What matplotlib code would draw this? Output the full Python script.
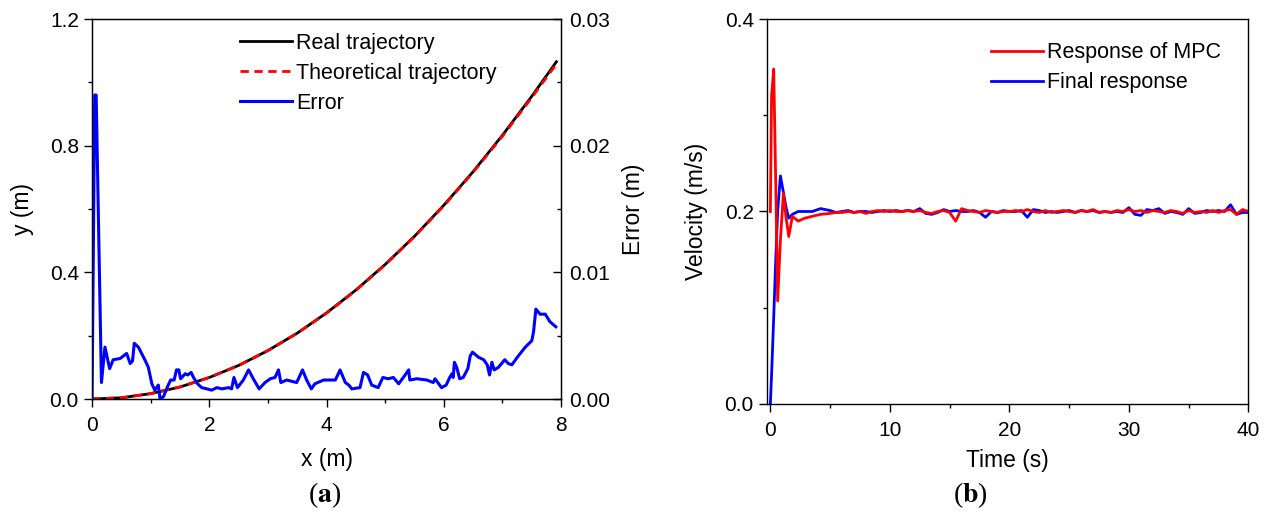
import numpy as np
import matplotlib
matplotlib.use("Agg")
import matplotlib.pyplot as plt
from matplotlib.ticker import MultipleLocator

plt.rcParams["font.family"] = ["Liberation Sans", "DejaVu Sans"]
plt.rcParams["font.size"] = 15
plt.rcParams["axes.labelsize"] = 16.5
plt.rcParams["mathtext.fontset"] = "stix"

# (a) trajectory
traj_x = [0, 0.5, 1, 1.5, 2, 2.5, 3, 3.5, 4, 4.5, 5, 5.5, 6, 6.5, 7, 7.5, 7.92]
real_y = [0, 0.004, 0.017, 0.038, 0.068, 0.106, 0.153, 0.208, 0.272, 0.344,
          0.425, 0.514, 0.612, 0.718, 0.833, 0.956, 1.065]
theo_y = [0, 0.004, 0.017, 0.038, 0.068, 0.106, 0.153, 0.208, 0.271, 0.343,
          0.424, 0.513, 0.610, 0.716, 0.830, 0.952, 1.058]

err_x = [0, 0.045, 0.07, 0.16, 0.22, 0.30, 0.36, 0.48, 0.59, 0.65,
         0.69, 0.72, 0.79, 0.90, 0.96, 1.02, 1.07, 1.13, 1.16, 1.22,
         1.28, 1.34, 1.40, 1.44, 1.48, 1.51, 1.59, 1.63, 1.69, 1.73,
         1.80, 1.87, 1.96, 2.04, 2.13, 2.21, 2.33, 2.38, 2.42, 2.48,
         2.58, 2.67, 2.75, 2.85, 2.95, 3.04, 3.12, 3.18, 3.22, 3.32,
         3.49, 3.59, 3.66, 3.74, 3.80, 3.95, 4.15, 4.23, 4.32, 4.38,
         4.43, 4.57, 4.63, 4.70, 4.77, 4.88, 4.96, 5.05, 5.14, 5.23,
         5.34, 5.40, 5.42, 5.54, 5.71, 5.82, 5.85, 5.96, 6.04, 6.10,
         6.14, 6.16, 6.18, 6.22, 6.27, 6.33, 6.41, 6.45, 6.49, 6.59,
         6.68, 6.74, 6.78, 6.82, 6.86, 6.93, 7.04, 7.10, 7.16, 7.27,
         7.39, 7.50, 7.53, 7.57, 7.64, 7.73, 7.81, 7.91]
err_y = [0, 0.0240, 0.0240, 0.0013, 0.0041, 0.0024, 0.0031, 0.0032, 0.0036, 0.0028,
         0.0030, 0.0044, 0.0041, 0.0031, 0.0025, 0.0012, 0.0007, 0.0011, 0.0, 0.0002,
         0.0009, 0.0015, 0.0015, 0.0023, 0.0023, 0.0016, 0.0020, 0.0019, 0.0021, 0.0017,
         0.0012, 0.0009, 0.0008, 0.0007, 0.0009, 0.0008, 0.0009, 0.0008, 0.0017, 0.0009,
         0.0015, 0.0023, 0.0016, 0.0008, 0.0013, 0.0016, 0.0017, 0.0023, 0.0013, 0.0015,
         0.0013, 0.0023, 0.0015, 0.0008, 0.0012, 0.0015, 0.0015, 0.0023, 0.0013, 0.0011,
         0.0008, 0.0009, 0.0021, 0.0019, 0.0011, 0.0009, 0.0017, 0.0016, 0.0017, 0.0012,
         0.0019, 0.0023, 0.0015, 0.0016, 0.0015, 0.0013, 0.0016, 0.0009, 0.0011, 0.0017,
         0.0020, 0.0017, 0.0029, 0.0025, 0.0016, 0.0017, 0.0024, 0.0034, 0.0037, 0.0033,
         0.0031, 0.0027, 0.0019, 0.0029, 0.0023, 0.0025, 0.0031, 0.0028, 0.0027, 0.0034,
         0.0041, 0.0046, 0.0053, 0.0071, 0.0067, 0.0067, 0.0061, 0.0057]

# (b) velocity response
time_early = [0, 0.1, 0.28, 0.45, 0.61, 0.84, 1.09, 1.3, 1.54, 1.84, 2.32, 2.87, 3.5, 4.2, 5.0]
time_s = time_early + list(np.arange(5.5, 40.01, 0.5))

mpc_v = [0.200, 0.320, 0.348, 0.230, 0.107, 0.170, 0.219, 0.195, 0.174, 0.195,
         0.190, 0.193, 0.195, 0.197, 0.198,
         0.199, 0.199, 0.200, 0.199, 0.200, 0.198, 0.200, 0.201, 0.200, 0.201,
         0.200, 0.200, 0.201, 0.200, 0.201, 0.199, 0.198, 0.200, 0.201, 0.199,
         0.190, 0.203, 0.201, 0.200, 0.199, 0.201, 0.200, 0.199, 0.200, 0.200,
         0.201, 0.200, 0.202, 0.200, 0.199, 0.201, 0.199, 0.200, 0.201, 0.200,
         0.199, 0.201, 0.200, 0.202, 0.199, 0.200, 0.199, 0.201, 0.200, 0.202,
         0.200, 0.201, 0.199, 0.201, 0.200, 0.199, 0.201, 0.200, 0.198, 0.201,
         0.199, 0.200, 0.199, 0.201, 0.199, 0.201, 0.202, 0.197, 0.202, 0.200]
final_v = [0.000, 0.030, 0.090, 0.150, 0.200, 0.237, 0.220, 0.205, 0.193, 0.197,
           0.200, 0.200, 0.200, 0.203, 0.201,
           0.199, 0.200, 0.201, 0.199, 0.200, 0.200, 0.199, 0.200, 0.201, 0.200,
           0.201, 0.200, 0.201, 0.200, 0.203, 0.198, 0.197, 0.199, 0.202, 0.200,
           0.201, 0.200, 0.200, 0.201, 0.199, 0.194, 0.200, 0.199, 0.201, 0.200,
           0.200, 0.201, 0.194, 0.202, 0.201, 0.199, 0.200, 0.199, 0.200, 0.201,
           0.199, 0.201, 0.200, 0.201, 0.199, 0.200, 0.199, 0.200, 0.199, 0.204,
           0.197, 0.196, 0.202, 0.201, 0.203, 0.198, 0.200, 0.199, 0.197, 0.203,
           0.198, 0.199, 0.201, 0.200, 0.201, 0.200, 0.207, 0.197, 0.199, 0.199]


def style_ticks(ax):
    ax.tick_params(which="major", length=6, width=1, direction="out")
    ax.tick_params(which="minor", length=3, width=1, direction="out")
    ax.tick_params(axis="x", which="major", pad=6.5)
    ax.tick_params(top=False, right=False, which="both")
    for sp in ax.spines.values():
        sp.set_linewidth(1)


def main():
    fig = plt.figure(figsize=(12.68, 5.18), dpi=100)
    leg_kw = dict(loc="upper left", frameon=False, borderpad=0, borderaxespad=0,
                  handlelength=2.4, handletextpad=0.2, labelspacing=0.42,
                  fontsize=15.5)

    # ---- panel (a)
    ax1 = fig.add_axes([0.0726, 0.2297, 0.3699, 0.7336])
    ax1.plot(traj_x, real_y, color="black", lw=2, label="Real trajectory")
    ax1.plot(traj_x, theo_y, color="red", lw=2, ls=(0, (3, 2)),
             label="Theoretical trajectory")
    ax1.set_xlim(0, 8)
    ax1.set_ylim(0, 1.2)
    ax1.xaxis.set_major_locator(MultipleLocator(2))
    ax1.xaxis.set_minor_locator(MultipleLocator(1))
    ax1.yaxis.set_major_locator(MultipleLocator(0.4))
    ax1.yaxis.set_minor_locator(MultipleLocator(0.2))
    ax1.yaxis.set_major_formatter(plt.FormatStrFormatter("%.1f"))
    ax1.set_xlabel("x (m)", labelpad=9)
    ax1.set_ylabel("y (m)", labelpad=11)
    style_ticks(ax1)

    ax2 = ax1.twinx()
    ax2.plot(err_x, err_y, color="blue", lw=2.2, label="Error")
    ax2.set_ylim(0, 0.03)
    ax2.yaxis.set_major_locator(MultipleLocator(0.01))
    ax2.yaxis.set_minor_locator(MultipleLocator(0.005))
    ax2.yaxis.set_major_formatter(plt.FormatStrFormatter("%.2f"))
    ax2.tick_params(axis="y", which="major", length=6, width=1, direction="in", pad=6)
    ax2.tick_params(axis="y", which="minor", length=3, width=1, direction="in")
    ax2.set_ylabel("Error (m)", labelpad=8)

    h1, l1 = ax1.get_legend_handles_labels()
    h2, l2 = ax2.get_legend_handles_labels()
    ax2.legend(h1 + h2, l1 + l2, bbox_to_anchor=(0.316, 0.964), **leg_kw)

    fig.text(0.256, 0.045, r"($\mathbf{a}$)", ha="center", va="center",
             fontsize=20, family="Liberation Serif")

    # ---- panel (b)
    ax3 = fig.add_axes([0.6049, 0.2201, 0.3797, 0.7432])
    ax3.plot(time_s, final_v, color="blue", lw=2, label="Final response")
    ax3.plot(time_s, mpc_v, color="red", lw=2, label="Response of MPC")
    ax3.set_xlim(-0.28, 40)
    ax3.set_ylim(0, 0.4)
    ax3.xaxis.set_major_locator(MultipleLocator(10))
    ax3.xaxis.set_minor_locator(MultipleLocator(5))
    ax3.yaxis.set_major_locator(MultipleLocator(0.2))
    ax3.yaxis.set_minor_locator(MultipleLocator(0.1))
    ax3.yaxis.set_major_formatter(plt.FormatStrFormatter("%.1f"))
    ax3.set_xlabel("Time (s)", labelpad=6)
    ax3.set_ylabel("Velocity (m/s)", labelpad=12)
    style_ticks(ax3)
    h, l = ax3.get_legend_handles_labels()
    ax3.legend([h[1], h[0]], [l[1], l[0]], bbox_to_anchor=(0.465, 0.94), **leg_kw)

    fig.text(0.765, 0.045, r"($\mathbf{b}$)", ha="center", va="center",
             fontsize=20, family="Liberation Serif")

    fig.savefig("out.png", dpi=100)


if __name__ == "__main__":
    main()
